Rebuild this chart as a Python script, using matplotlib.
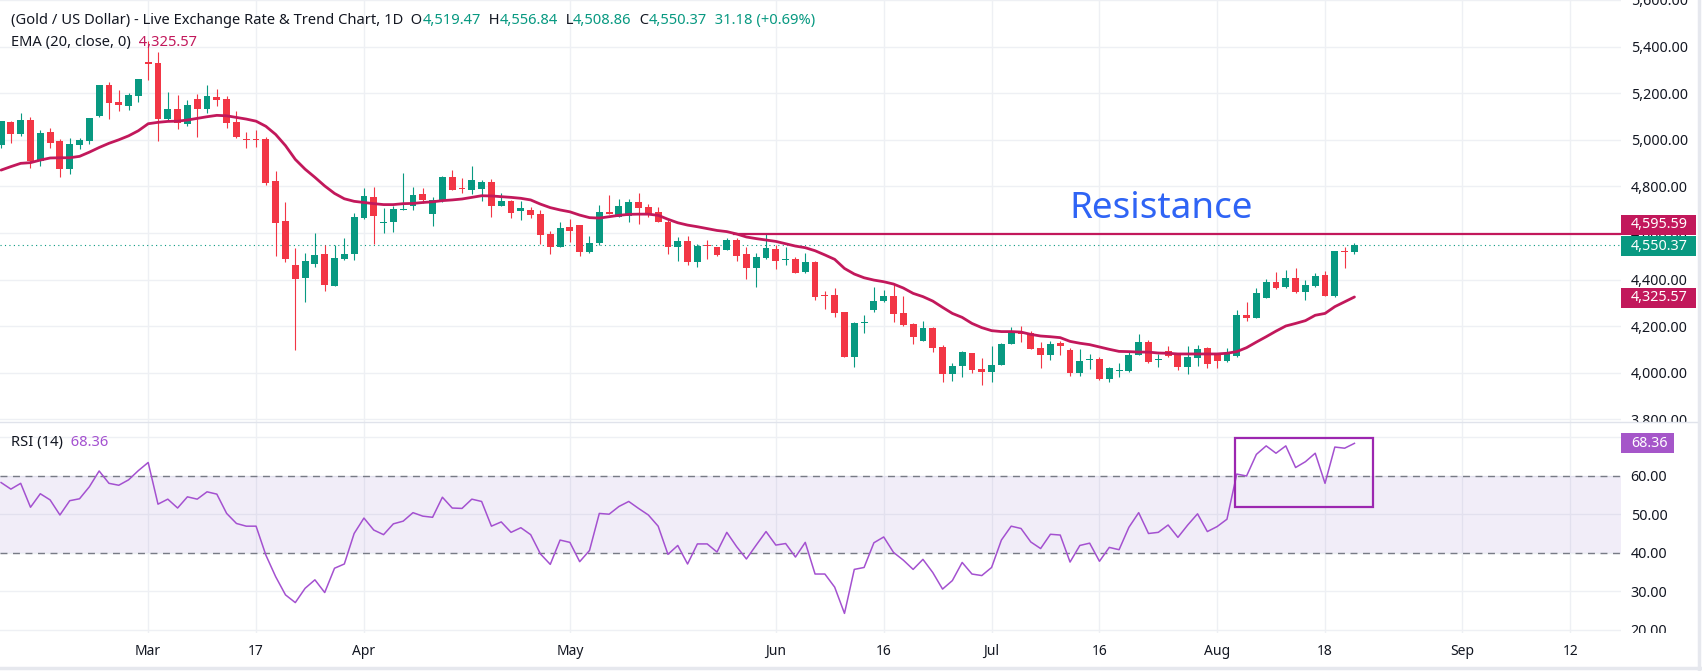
import matplotlib
matplotlib.use('Agg')
import matplotlib.pyplot as plt
import pandas as pd
from matplotlib.lines import Line2D
from matplotlib.patches import Rectangle
from matplotlib.transforms import Bbox, TransformedBbox, blended_transform_factory

plt.rcParams['font.family'] = ['Noto Sans', 'DejaVu Sans']

# colours
GREEN = '#089981'
RED = '#f23645'
CRIMSON = '#c2185b'
PURPLE = '#a451d0'
TEXT = '#131722'
GRID = '#eef0f4'

# ---------------- data ----------------
# daily bars from 2026-02-09 to 2026-08-21 (Good Friday closed)
opens = [4977, 5076, 5026, 5085, 4910, 5033, 4996, 4873, 4979, 4996,
         5103, 5235, 5162, 5146, 5189, 5336, 5329, 5089, 5132, 5069,
         5175, 5133, 5183, 5175, 5076, 5002, 5000, 5005, 4823, 4651,
         4463, 4408, 4468, 4510, 4374, 4488, 4510, 4666, 4754, 4645,
         4647, 4700, 4717, 4767, 4683, 4737, 4840, 4789, 4786, 4789,
         4819, 4717, 4737, 4696, 4699, 4681, 4594, 4541, 4626, 4634,
         4520, 4558, 4691, 4669, 4674, 4733, 4711, 4690, 4647, 4538,
         4566, 4477, 4546, 4540, 4528, 4570, 4510, 4451, 4494, 4531,
         4483, 4487, 4434, 4476, 4332, 4333, 4261, 4069, 4212, 4270,
         4308, 4330, 4257, 4210, 4138, 4192, 4112, 3996, 4031, 4084,
         4015, 4005, 4035, 4125, 4177, 4170, 4108, 4078, 4127, 4098,
         4001, 4055, 4059, 3974, 4006, 4009, 4078, 4132, 4054, 4094,
         4082, 4026, 4064, 4107, 4081, 4052, 4072, 4248, 4237, 4322,
         4391, 4368, 4405, 4348, 4374, 4420, 4331, 4522, 4519.47]
highs = [5082, 5082, 5116, 5099, 5042, 5050, 5002, 5007, 5009, 5095,
         5237, 5248, 5213, 5202, 5263, 5425, 5378, 5205, 5193, 5170,
         5198, 5235, 5218, 5188, 5123, 5033, 5042, 5010, 4867, 4733,
         4536, 4513, 4600, 4548, 4548, 4578, 4684, 4793, 4797, 4706,
         4716, 4857, 4799, 4793, 4756, 4845, 4870, 4836, 4887, 4827,
         4830, 4770, 4741, 4737, 4713, 4699, 4610, 4647, 4660, 4634,
         4587, 4720, 4763, 4746, 4746, 4773, 4724, 4713, 4656, 4584,
         4587, 4551, 4570, 4540, 4577, 4578, 4538, 4513, 4596, 4548,
         4540, 4498, 4516, 4480, 4353, 4363, 4263, 4218, 4247, 4367,
         4355, 4380, 4330, 4212, 4222, 4198, 4118, 4044, 4095, 4087,
         4062, 4117, 4127, 4195, 4200, 4178, 4134, 4138, 4135, 4105,
         4102, 4081, 4068, 4026, 4041, 4089, 4167, 4142, 4081, 4117,
         4087, 4117, 4119, 4112, 4084, 4108, 4270, 4305, 4362, 4401,
         4434, 4441, 4448, 4398, 4428, 4437, 4523, 4540, 4556.84]
lows = [4963, 4987, 5017, 4877, 4889, 4966, 4842, 4854, 4959, 4980,
        5099, 5090, 5123, 5128, 5163, 5256, 4996, 5080, 5047, 5060,
        5013, 5115, 5146, 5052, 5009, 4966, 4970, 4807, 4503, 4477,
        4098, 4305, 4454, 4353, 4374, 4484, 4484, 4660, 4553, 4601,
        4604, 4699, 4698, 4727, 4631, 4734, 4786, 4773, 4767, 4739,
        4670, 4717, 4666, 4656, 4666, 4553, 4511, 4541, 4563, 4503,
        4516, 4547, 4683, 4669, 4649, 4640, 4670, 4647, 4511, 4481,
        4463, 4456, 4488, 4503, 4528, 4481, 4404, 4370, 4488, 4447,
        4464, 4427, 4427, 4312, 4272, 4238, 4066, 4026, 4172, 4262,
        4305, 4220, 4201, 4125, 4138, 4091, 3962, 3966, 3984, 4000,
        3948, 3962, 4033, 4125, 4131, 4104, 4022, 4057, 4077, 3988,
        3988, 4018, 3971, 3961, 3984, 4002, 4078, 4044, 4024, 4067,
        4012, 3996, 4031, 4022, 4022, 4048, 4069, 4224, 4236, 4320,
        4358, 4365, 4343, 4314, 4370, 4331, 4327, 4451, 4508.86]
closes = [5082, 5026, 5085, 4910, 5029, 4987, 4873, 4982, 4999, 5093,
          5235, 5159, 5148, 5192, 5261, 5326, 5089, 5132, 5073, 5149,
          5133, 5188, 5172, 5073, 5012, 5000, 4998, 4814, 4644, 4488,
          4403, 4481, 4506, 4377, 4493, 4510, 4669, 4759, 4674, 4647,
          4703, 4703, 4763, 4741, 4741, 4840, 4786, 4787, 4827, 4819,
          4717, 4737, 4687, 4707, 4677, 4593, 4541, 4621, 4610, 4520,
          4556, 4690, 4683, 4716, 4733, 4707, 4683, 4647, 4538, 4566,
          4477, 4544, 4544, 4507, 4571, 4503, 4451, 4496, 4534, 4480,
          4484, 4430, 4476, 4327, 4330, 4258, 4069, 4212, 4214, 4308,
          4330, 4254, 4205, 4155, 4191, 4108, 3996, 4029, 4088, 4014,
          4005, 4034, 4124, 4177, 4165, 4104, 4075, 4124, 4117, 4001,
          4051, 4057, 3974, 4021, 4008, 4078, 4132, 4048, 4056, 4072,
          4026, 4068, 4102, 4039, 4052, 4081, 4248, 4237, 4343, 4391,
          4365, 4405, 4347, 4377, 4414, 4331, 4523, 4519, 4550.37]
ema20 = [4870, 4885, 4899, 4902, 4913, 4922, 4923, 4923, 4929, 4947,
         4967, 4985, 5000, 5017, 5039, 5069, 5075, 5079, 5080, 5085,
         5092, 5099, 5105, 5103, 5096, 5089, 5080, 5058, 5023, 4975,
         4916, 4874, 4839, 4802, 4770, 4747, 4736, 4731, 4726, 4722,
         4722, 4726, 4727, 4731, 4734, 4739, 4742, 4746, 4753, 4760,
         4759, 4756, 4753, 4749, 4742, 4724, 4709, 4699, 4691, 4677,
         4666, 4664, 4670, 4676, 4680, 4681, 4681, 4676, 4659, 4644,
         4634, 4627, 4619, 4611, 4606, 4596, 4583, 4576, 4570, 4564,
         4554, 4544, 4537, 4524, 4506, 4487, 4448, 4424, 4408, 4398,
         4391, 4381, 4364, 4341, 4327, 4308, 4281, 4255, 4238, 4212,
         4194, 4181, 4177, 4177, 4175, 4165, 4158, 4155, 4151, 4135,
         4127, 4121, 4111, 4101, 4092, 4091, 4089, 4089, 4085, 4084,
         4081, 4081, 4081, 4081, 4081, 4084, 4091, 4108, 4132, 4155,
         4179, 4201, 4212, 4224, 4247, 4255, 4284, 4305, 4325.57]
rsi14 = [58.2, 56.5, 58.0, 51.8, 55.3, 53.7, 49.8, 53.5, 54.0, 57.1,
         61.2, 58.0, 57.5, 58.9, 61.3, 63.4, 52.6, 53.9, 51.6, 54.5,
         53.9, 55.8, 55.2, 50.2, 47.6, 46.9, 46.9, 39.4, 33.8, 29.1,
         27.1, 30.8, 33.0, 29.7, 36.0, 37.1, 45.0, 49.0, 45.9, 44.7,
         47.5, 48.2, 50.4, 49.5, 49.2, 54.4, 51.6, 51.5, 53.9, 53.3,
         46.9, 48.0, 45.3, 46.5, 44.7, 39.7, 37.0, 43.3, 42.7, 37.7,
         40.6, 50.2, 50.0, 52.0, 53.3, 51.5, 49.8, 46.9, 39.6, 41.9,
         37.1, 42.3, 42.3, 40.2, 45.3, 41.6, 38.4, 42.0, 45.5, 42.0,
         42.4, 38.9, 42.7, 34.5, 34.5, 31.1, 24.3, 35.7, 36.2, 42.6,
         44.1, 40.1, 38.1, 35.7, 38.3, 34.9, 30.6, 32.8, 37.5, 34.5,
         34.1, 36.2, 43.3, 46.9, 46.3, 42.8, 41.1, 44.8, 44.6, 37.6,
         41.9, 42.5, 37.8, 41.4, 40.8, 46.6, 50.4, 45.0, 45.3, 47.2,
         44.0, 47.2, 50.1, 45.5, 46.8, 48.7, 60.4, 59.9, 65.5, 67.7,
         65.8, 67.7, 62.1, 63.6, 65.8, 58.0, 67.4, 67.1, 68.36]

resistance = 4595.59
resistance_from = 74.7          # bar where the drawn line starts
box_bars = (125.85, 139.9)      # RSI highlight box (bars)
box_rsi = (51.9, 69.8)          # RSI highlight box (levels)

tick_dates = ['2026-03-02', '2026-03-17', '2026-04-01', '2026-05-01',
              '2026-06-01', '2026-06-16', '2026-07-01', '2026-07-16',
              '2026-08-03', '2026-08-18', '2026-09-01', '2026-09-12']
tick_labels = ['Mar', '17', 'Apr', 'May', 'Jun', '16', 'Jul', '16',
               'Aug', '18', 'Sep', '12']
price_ticks = [3800, 4000, 4200, 4400, 4600, 4800, 5000, 5200, 5400, 5600]
rsi_ticks = [20, 30, 40, 50, 60, 70]

# trading-day calendar; future part of the axis runs in calendar days
trade_days = pd.bdate_range('2026-02-09', '2026-08-21').drop(pd.Timestamp('2026-04-03'))
last_day = trade_days[-1]


def bar_pos(d):
    d = pd.Timestamp(d)
    if d <= last_day:
        return trade_days.get_loc(d)
    return len(trade_days) - 1 + (d - last_day).days


xs = list(range(len(closes)))
tick_pos = [bar_pos(d) for d in tick_dates]

# ---------------- figure ----------------
W, H = 1702, 671
fig = plt.figure(figsize=(W / 100, H / 100), dpi=100)
fig.patch.set_facecolor('white')
plot_w = 1621 / W
ax_p = fig.add_axes([0, 1 - 422 / H, plot_w, 422 / H])
ax_r = fig.add_axes([0, 1 - 633 / H, plot_w, 211 / H], sharex=ax_p)

for ax in (ax_p, ax_r):
    for s in ax.spines.values():
        s.set_visible(False)
    ax.set_xlim(-0.11, 165.18)
    ax.set_xticks(tick_pos)
    ax.grid(True, color=GRID, lw=1)
    ax.set_axisbelow(True)
    ax.yaxis.tick_right()
    ax.tick_params(axis='y', length=0, pad=7, labelsize=10.3, labelcolor=TEXT)
    ax.tick_params(axis='x', length=0)

# price panel
ax_p.set_ylim(3789, 5599.5)
ax_p.set_yticks(price_ticks)
ax_p.set_yticklabels([f'{v:,.2f}' for v in price_ticks])
ax_p.tick_params(axis='x', labelbottom=False)

for x, o, h, l, c in zip(xs, opens, highs, lows, closes):
    col = GREEN if c >= o else RED
    ax_p.vlines(x, l, h, color=col, lw=0.8, zorder=3)
    ax_p.bar(x, max(abs(c - o), 4.3), bottom=min(o, c), width=0.7,
             color=col, linewidth=0, zorder=4)

ax_p.plot(xs, ema20, color=CRIMSON, lw=2.0, zorder=5, solid_capstyle='round')
ax_p.axhline(closes[-1], color=GREEN, lw=0.8, linestyle=(0, (1, 3)), zorder=2)
ax_p.plot([resistance_from, 166], [resistance, resistance], color=CRIMSON, lw=1.6, zorder=5)
ax_p.text(108.9, 4663, 'Resistance', color='#2f64f5', fontsize=26.5,
          ha='left', va='baseline', zorder=6)

# RSI panel
ax_r.set_ylim(19.22, 73.89)
ax_r.set_yticks(rsi_ticks)
ax_r.set_yticklabels([f'{v:.2f}' for v in rsi_ticks])
ax_r.axhspan(40, 60, color='#7e57c2', alpha=0.1, lw=0, zorder=1)
for lvl in (40, 60):
    ax_r.axhline(lvl, color='#787b86', lw=1, linestyle=(0, (5, 4)), zorder=2)
ax_r.plot(xs, rsi14, color=PURPLE, lw=1.1, zorder=4)
ax_r.add_patch(Rectangle((box_bars[0], box_rsi[0]), box_bars[1] - box_bars[0],
                         box_rsi[1] - box_rsi[0], fill=False,
                         edgecolor='#9c27b0', lw=1.6, zorder=5))

ax_r.set_xticklabels(tick_labels)
ax_r.tick_params(axis='x', pad=8, labelsize=10, labelcolor=TEXT)
for lab, txt in zip(ax_r.get_xticklabels(), tick_labels):
    lab.set_fontweight('normal' if txt.isdigit() else 'bold')


# value badges on the price scale (shift_px nudges a badge so neighbours don't overlap)
def badge(ax, y, txt, color, w_px, h_px=20, shift_px=0):
    lo, hi = ax.get_ylim()
    per_px = (hi - lo) / (ax.get_position().height * H)
    yc = y + shift_px * per_px
    h = h_px * per_px
    tr = blended_transform_factory(ax.transAxes, ax.transData)
    ax.add_patch(Rectangle((1.0, yc - h / 2), w_px / 1621, h, transform=tr,
                           facecolor=color, lw=0, clip_on=False, zorder=10))
    ax.text(1.0 + 10 / 1621, yc, txt, transform=tr, color='white', fontsize=10.3,
            ha='left', va='center', clip_on=False, zorder=11)


badge(ax_p, resistance, f'{resistance:,.2f}', CRIMSON, 75, shift_px=9.5)
badge(ax_p, closes[-1], f'{closes[-1]:,.2f}', GREEN, 75, shift_px=-1.5)
badge(ax_p, ema20[-1], f'{ema20[-1]:,.2f}', CRIMSON, 75, shift_px=-1)
badge(ax_r, rsi14[-1], f'{rsi14[-1]:.2f}', '#a556c9', 53)

# frame lines
fig.add_artist(Line2D([0, 1698 / W], [1 - 422 / H] * 2, color='#e0e3eb', lw=1,
                      transform=fig.transFigure))
fig.add_artist(Line2D([0, 1], [1 - 668 / H] * 2, color='#e6e8ee', lw=2.5,
                      transform=fig.transFigure))
fig.add_artist(Line2D([1699 / W] * 2, [0, 1], color='#e6e8ee', lw=2.5,
                      transform=fig.transFigure))

# legend texts, placed piece by piece
fig.canvas.draw()
renderer = fig.canvas.get_renderer()


def chain(x, y, parts, size=10.6):
    for txt, col in parts:
        t = fig.text(x / W, 1 - y / H, txt, color=col, fontsize=size,
                     ha='left', va='center')
        x = t.get_window_extent(renderer).x1


chain(11, 20.7, [('(Gold / US Dollar) - Live Exchange Rate & Trend Chart, 1D', TEXT),
                 ('  O', TEXT), ('4,519.47', GREEN), ('  H', TEXT), ('4,556.84', GREEN),
                 ('  L', TEXT), ('4,508.86', GREEN), ('  C', TEXT), ('4,550.37', GREEN),
                 ('  31.18 (+0.69%)', GREEN)])
chain(11, 42.7, [('EMA (20, close, 0)', TEXT), ('  4,325.57', CRIMSON)])
chain(11, 442.3, [('RSI (14)', TEXT), ('  68.36', PURPLE)])

# clip scale labels to their own panel, as on the original
for ax, (y0, y1) in ((ax_p, (0, 422)), (ax_r, (422, 633))):
    box = TransformedBbox(Bbox([[0.9, 1 - y1 / H], [1.0, 1 - y0 / H]]), fig.transFigure)
    for lab in ax.get_yticklabels():
        lab.set_clip_box(box)
        lab.set_clip_on(True)

fig.savefig('out.png', dpi=100, facecolor='white')
